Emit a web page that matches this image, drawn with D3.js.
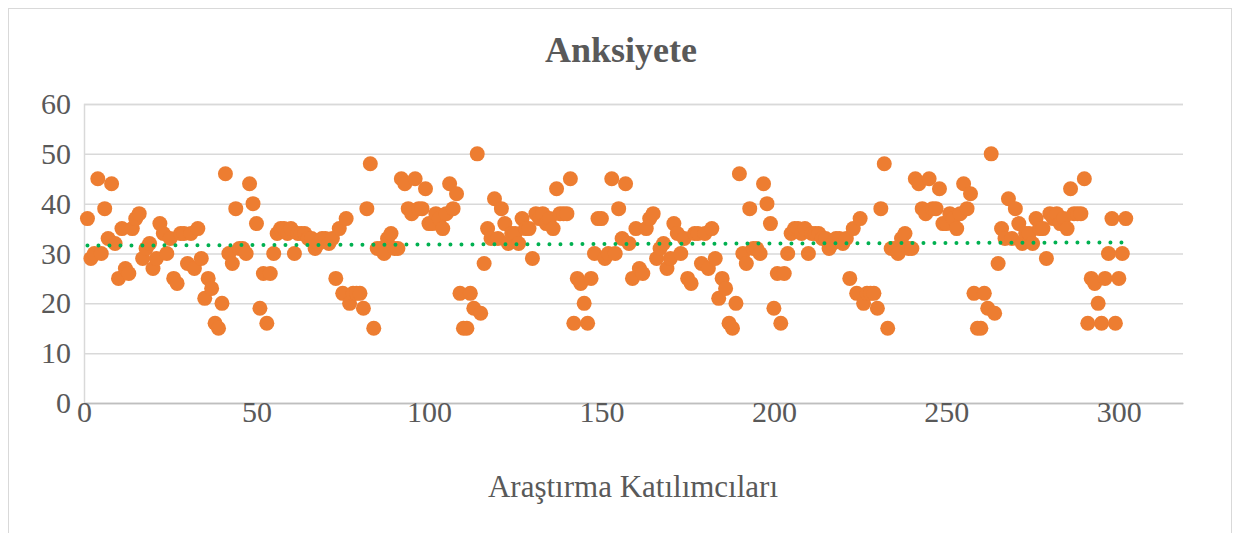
<!DOCTYPE html>
<html><head><meta charset="utf-8">
<script src="https://cdn.jsdelivr.net/npm/d3@7"></script>
<style>body{margin:0;background:#fff} svg{display:block}</style>
</head><body>
<script>
const chartTitle = "Anksiyete";
const xAxisTitle = "Araştırma Katılımcıları";
const xTickValues = [0, 50, 100, 150, 200, 250, 300];
const yTickValues = [0, 10, 20, 30, 40, 50, 60];
// anxiety score per participant (participant number = position + 1)
const anxiety = [
  37,29,30,45,30,39,33,44,32,25, 35,27,26,35,37,38,29,31,32,27,
  29,36,34,30,33,25,24,34,34,28, 34,27,35,29,21,25,23,16,15,20,
  46,30,28,39,31,31,30,44,40,36, 19,26,16,26,30,34,35,35,34,35,
  30,34,34,34,33,33,31,32,33,33, 32,33,25,35,22,37,20,22,22,22,
  19,39,48,15,31,31,30,33,34,31, 31,45,44,39,38,45,39,39,43,36,
  36,38,37,35,38,44,39,42,22,15, 15,22,19,50,18,28,35,33,41,33,
  39,36,32,34,34,32,37,35,35,29, 38,37,38,36,37,35,43,38,38,38,
  45,16,25,24,20,16,25,30,37,
  37,29,30,45,30,39,33,44,32,25, 35,27,26,35,37,38,29,31,32,27,
  29,36,34,30,33,25,24,34,34,28, 34,27,35,29,21,25,23,16,15,20,
  46,30,28,39,31,31,30,44,40,36, 19,26,16,26,30,34,35,35,34,35,
  30,34,34,34,33,33,31,32,33,33, 32,33,25,35,22,37,20,22,22,22,
  19,39,48,15,31,31,30,33,34,31, 31,45,44,39,38,45,39,39,43,36,
  36,38,37,35,38,44,39,42,22,15, 15,22,19,50,18,28,35,33,41,33,
  39,36,32,34,34,32,37,35,35,29, 38,37,38,36,37,35,43,38,38,38,
  45,16,25,24,20,16,25,30,37,
  16,25,30,37
];

const W = 1239, H = 533;
const font = "'Liberation Serif','Times New Roman',serif";
const textColor = "#595959";
const svg = d3.select("body").append("svg").attr("width", W).attr("height", H);

svg.append("rect").attr("x", 8.5).attr("y", 8.5).attr("width", 1223).attr("height", 560)
  .attr("fill", "#fff").attr("stroke", "#d9d9d9");

const x = d3.scaleLinear().domain([0, 318.6]).range([84, 1183]);
const y = d3.scaleLinear().domain([0, 60]).range([403, 104]);

// Y axis with gridlines
const gy = svg.append("g").attr("transform", "translate(84,0)")
  .call(d3.axisLeft(y).tickValues(yTickValues).tickSize(-(1183 - 84)).tickPadding(13));
gy.select(".domain").attr("stroke", "#d9d9d9").attr("stroke-width", 1.5);
gy.selectAll(".tick line").attr("stroke", "#d9d9d9").attr("stroke-width", 1.5);
gy.selectAll(".tick text").attr("font-family", font).attr("font-size", 30).attr("fill", textColor);

// X axis
const gx = svg.append("g").attr("transform", "translate(0,403)")
  .call(d3.axisBottom(x).tickValues(xTickValues).tickSize(0));
gx.select(".domain").attr("stroke", "#bfbfbf").attr("stroke-width", 1.5);
gx.selectAll(".tick text").attr("font-family", font).attr("font-size", 30).attr("fill", textColor)
  .attr("y", 19).attr("dy", "0");

// Points
const pts = anxiety.map((v, i) => ({ p: i + 1, v }));
svg.append("g").selectAll("circle").data(pts).join("circle")
  .attr("cx", d => x(d.p)).attr("cy", d => y(d.v)).attr("r", 7.5)
  .attr("fill", "#ED7D31");

// Linear trendline (least squares)
const n = pts.length;
const mx = d3.mean(pts, d => d.p), my = d3.mean(pts, d => d.v);
const sxy = d3.sum(pts, d => (d.p - mx) * (d.v - my));
const sxx = d3.sum(pts, d => (d.p - mx) ** 2);
const slope = sxy / sxx, icpt = my - slope * mx;
const x0 = pts[0].p, x1 = pts[n - 1].p;
svg.append("line")
  .attr("x1", x(x0)).attr("y1", y(icpt + slope * x0))
  .attr("x2", x(x1)).attr("y2", y(icpt + slope * x1))
  .attr("stroke", "#00B050").attr("stroke-width", 4)
  .attr("stroke-linecap", "round").attr("stroke-dasharray", "0 11");

// Titles
svg.append("text").attr("x", 621).attr("y", 62).attr("text-anchor", "middle")
  .attr("font-family", font).attr("font-size", 36).attr("font-weight", "bold")
  .attr("fill", textColor).text(chartTitle);
svg.append("text").attr("x", 633).attr("y", 497).attr("text-anchor", "middle")
  .attr("font-family", font).attr("font-size", 31)
  .attr("fill", textColor).text(xAxisTitle);
</script>
</body></html>
